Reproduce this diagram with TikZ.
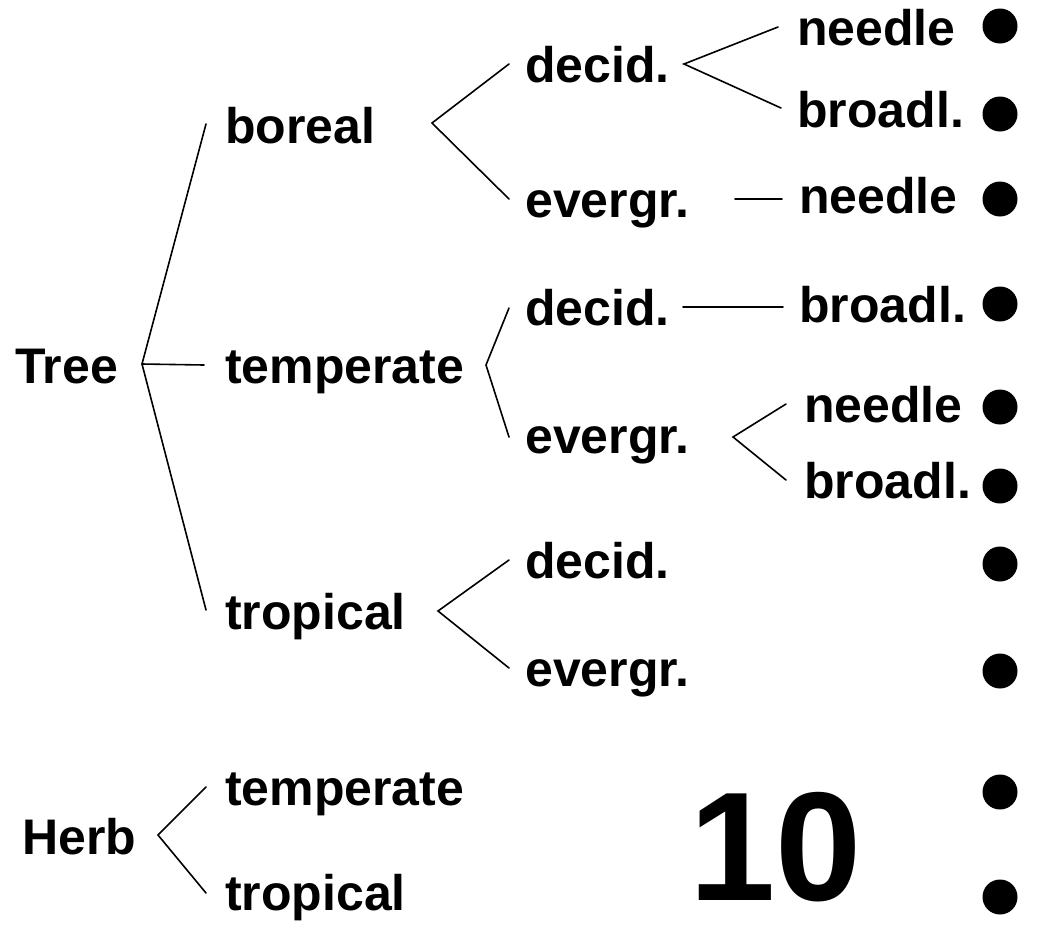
\documentclass[tikz,border=0pt]{standalone}
\usepackage{fontspec}
\setmainfont{Liberation Sans}
\begin{document}
\begin{tikzpicture}[x=1pt,y=-1pt,
  lbl/.style={anchor=base west,inner sep=0pt,font=\bfseries\fontsize{50}{50}\selectfont},
  big/.style={anchor=base west,inner sep=0pt,font=\bfseries\fontsize{155}{155}\selectfont},
  link/.style={line width=1.6pt,line cap=round,line join=miter},
  dot/.style={circle,fill=black,inner sep=0pt,minimum size=35pt}]
\useasboundingbox (0,0) rectangle (1054,948);

% ---- labels ----
\node[lbl] (tree) at (15,383) {Tree};
\node[lbl] (bor) at (225,143) {boreal};
\node[lbl] (tem) at (225,383) {temperate};
\node[lbl] (tro) at (225,629) {tropical};
\node[lbl] (bd) at (525,82) {decid.};
\node[lbl] (be) at (525,217) {evergr.};
\node[lbl] (td) at (525,325) {decid.};
\node[lbl] (te) at (525,453) {evergr.};
\node[lbl] (rd) at (525,578) {decid.};
\node[lbl] (re) at (525,686) {evergr.};
\node[lbl] (bdn) at (797,45) {needle};
\node[lbl] (bdb) at (797,127) {broadl.};
\node[lbl] (ben) at (799,213) {needle};
\node[lbl] (tdb) at (799,322) {broadl.};
\node[lbl] (ten) at (804,422) {needle};
\node[lbl] (teb) at (804,498) {broadl.};
\node[lbl] (herb) at (22,854) {Herb};
\node[lbl] (htem) at (225,805) {temperate};
\node[lbl] (htro) at (225,910) {tropical};
\node[big] (ten10) at (689,900) {10};

% ---- dots ----
\foreach \n/\y in {1/26,2/114,3/199,4/304,5/407,6/486,7/564,8/671,9/792,10/897}
  \node[dot] (d\n) at (1000,\y) {};

% ---- branch points and line ends ----
\coordinate (j0) at (142,364);
\coordinate (j0a) at (206,124);
\coordinate (j0b) at (204,365);
\coordinate (j0c) at (206,610);
\coordinate (jb) at (432,123);
\coordinate (jba) at (509,64);
\coordinate (jbb) at (509,199);
\coordinate (jt) at (486,365);
\coordinate (jta) at (509,308);
\coordinate (jtb) at (509,437);
\coordinate (jr) at (438,611);
\coordinate (jra) at (509,560);
\coordinate (jrb) at (509,668);
\coordinate (jbd) at (684,64);
\coordinate (jbda) at (778,27);
\coordinate (jbdb) at (781,108);
\coordinate (jbe) at (735,199);
\coordinate (jbea) at (782,199);
\coordinate (jtd) at (683,307);
\coordinate (jtda) at (783,307);
\coordinate (jte) at (733,437);
\coordinate (jtea) at (786,404);
\coordinate (jteb) at (786,480);
\coordinate (jh) at (158,835);
\coordinate (jha) at (206,787);
\coordinate (jhb) at (206,893);

% ---- connectors ----
\draw[link] (j0a) -- (j0) -- (j0c);
\draw[link] (j0) -- (j0b);
\draw[link] (jba) -- (jb) -- (jbb);
\draw[link] (jta) -- (jt) -- (jtb);
\draw[link] (jra) -- (jr) -- (jrb);
\draw[link] (jbda) -- (jbd) -- (jbdb);
\draw[link] (jbe) -- (jbea);
\draw[link] (jtd) -- (jtda);
\draw[link] (jtea) -- (jte) -- (jteb);
\draw[link] (jha) -- (jh) -- (jhb);
\end{tikzpicture}
\end{document}
